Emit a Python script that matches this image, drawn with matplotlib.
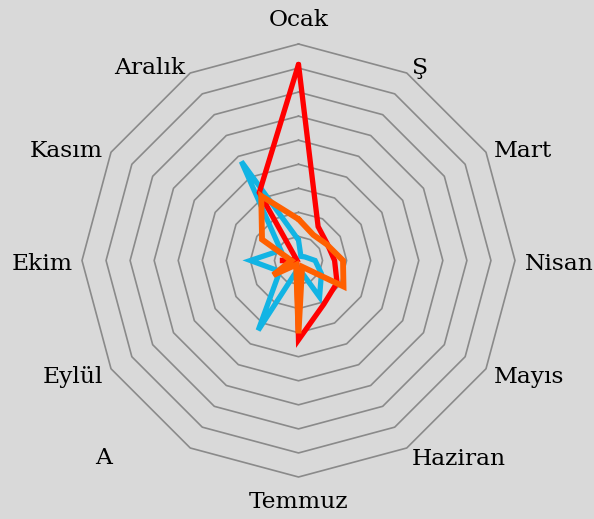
import numpy as np
import matplotlib
matplotlib.use("Agg")
import matplotlib.pyplot as plt

# aylar (saat yönünde, en üstten başlayarak)
months = ["Ocak", "Ş", "Mart", "Nisan", "Mayıs", "Haziran",
          "Temmuz", "A", "Eylül", "Ekim", "Kasım", "Aralık"]

# seriler (halka birimi cinsinden, 0-9)
red_vals = [8.15, 1.63, 1.38, 1.5, 1.85, 2.1, 3.3, 0.15, 0.1, 0.77, 0.1, 3.26]
blue_vals = [0.85, 0.2, 0.3, 0.69, 1.1, 1.75, 0.31, 3.35, 0.9, 2.0, 0.85, 4.75]
orange_vals = [1.72, 1.23, 1.35, 1.85, 2.16, 0.3, 3.03, 0.2, 1.21, 0.3, 1.75, 3.1]

rings = [1, 2, 3, 4, 5, 6, 7, 8, 9]

W, H = 594, 519
cx, cy = 298.5, 260.5      # merkez (piksel)
px_per_unit = 216.5 / 9

fig = plt.figure(figsize=(W / 100, H / 100), dpi=100)
fig.patch.set_facecolor("#d9d9d9")
ax = fig.add_axes([0, 0, 1, 1])
ax.set_facecolor("#d9d9d9")
u = 1 / px_per_unit
ax.set_xlim(-cx * u, (W - cx) * u)
ax.set_ylim(-(H - cy) * u, cy * u)
ax.set_aspect("equal")
ax.axis("off")

n = len(months)
ang = np.arange(n) * 2 * np.pi / n


def to_xy(vals):
    v = np.asarray(vals + vals[:1], dtype=float)
    a = np.append(ang, ang[0])
    return v * np.sin(a), v * np.cos(a)


# çokgen ızgara
for r in rings:
    gx, gy = to_xy([r] * n)
    ax.plot(gx, gy, color="#8a8a8a", lw=1.2, zorder=1)

# seriler
for vals, col, lw, z in [(blue_vals, "#12b4e4", 3.8, 3),
                         (red_vals, "#ff0000", 3.8, 4),
                         (orange_vals, "#ff6000", 4.2, 5)]:
    sx, sy = to_xy(vals)
    ax.plot(sx, sy, color=col, lw=lw, solid_joinstyle="miter",
            solid_capstyle="round", zorder=z)

# etiketler
for name, a in zip(months, ang):
    s, c = np.sin(a), np.cos(a)
    vertical = abs(c) > 0.9
    rr = (230 if vertical else 226) * u
    ha = "left" if s > 0.1 else ("right" if s < -0.1 else "center")
    va = "bottom" if c > 0.9 else ("top" if c < -0.9 else "center")
    off = (0, 0) if vertical else (0, -2.2)
    if name == "A":
        off = (-53, -1)
    ax.annotate(name, (rr * s, rr * c), xytext=off,
                textcoords="offset points", ha=ha, va=va,
                fontsize=16.8, family="DejaVu Serif", color="black")

fig.savefig("out.png", dpi=100, facecolor=fig.get_facecolor())
